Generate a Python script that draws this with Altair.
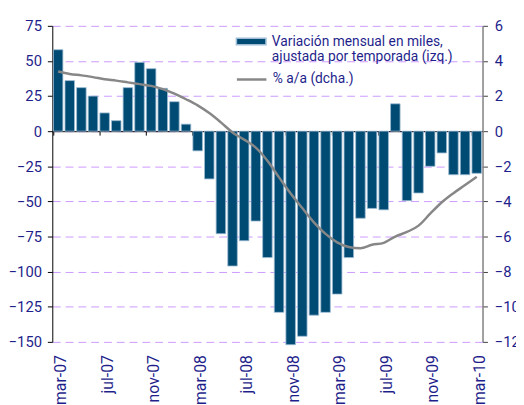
import altair as alt
import pandas as pd

months = ["mar-07", "abr-07", "may-07", "jun-07", "jul-07", "ago-07", "sep-07", "oct-07",
          "nov-07", "dic-07", "ene-08", "feb-08", "mar-08", "abr-08", "may-08", "jun-08",
          "jul-08", "ago-08", "sep-08", "oct-08", "nov-08", "dic-08", "ene-09", "feb-09",
          "mar-09", "abr-09", "may-09", "jun-09", "jul-09", "ago-09", "sep-09", "oct-09",
          "nov-09", "dic-09", "ene-10", "feb-10", "mar-10"]
empleo = [58, 36, 31, 25, 13, 7.5, 31, 49, 44.5, 30.5, 21, 5, -14, -34, -73, -96, -78,
          -64, -90, -129, -152, -146, -131, -129, -116, -90, -62, -55, -56, 19.5, -49.5,
          -44, -25, -15.5, -31, -31, -30]
tasa = [3.4, 3.26, 3.18, 3.08, 2.96, 2.88, 2.78, 2.68, 2.58, 2.4, 2.14, 1.82, 1.47, 1.03,
        0.5, -0.07, -0.48, -0.94, -1.69, -2.63, -3.55, -4.38, -5.19, -5.85, -6.33, -6.6,
        -6.67, -6.47, -6.36, -6.0, -5.74, -5.38, -4.7, -4.05, -3.53, -3.07, -2.6]
serie_barras = "Variación mensual en miles,|ajustada por temporada (izq.)"
serie_linea = "% a/a (dcha.)"
tick_months = months[::4]
left_ticks = list(range(-150, 76, 25))
right_ticks = list(range(-12, 7, 2))

df = pd.DataFrame({"mes": months, "empleo": empleo, "tasa": tasa,
                   "s_bar": serie_barras, "s_line": serie_linea})

navy = "#1F1F8C"
font = "Roboto"
x_scale = alt.Scale(domain=months, paddingInner=0.18, paddingOuter=0.09)

bars = alt.Chart(df).mark_bar(stroke="#9DBCD4", strokeWidth=0.8).encode(
    x=alt.X("mes:N", scale=x_scale, sort=months,
            axis=alt.Axis(orient="bottom", offset=-214, labels=False, domainColor="black",
                          domainWidth=1, tickColor="black", tickSize=4, values=tick_months,
                          bandPosition=0, grid=False, title=None)),
    y=alt.Y("empleo:Q", scale=alt.Scale(domain=[-150, 75], nice=False),
            axis=alt.Axis(values=left_ticks, title=None, grid=True, gridColor="#CC99FF",
                          gridDash=[8, 5], gridWidth=1, domainColor="black", tickColor="black",
                          tickSize=5, labelPadding=6, labelColor=navy, labelFontSize=15,
                          labelFont=font)),
    fill=alt.Fill("s_bar:N", scale=alt.Scale(domain=[serie_barras], range=["#004B73"]),
                  legend=alt.Legend(orient="none", legendX=186, legendY=0, title=None,
                                    symbolType="M-1,-0.22H1V0.22H-1Z", symbolSize=900,
                                    labelOffset=5, labelExpr="split(datum.label, '|')")),
)

line = alt.Chart(df).mark_line(strokeWidth=2.5, interpolate="monotone").encode(
    x=alt.X("mes:N", scale=x_scale, sort=months,
            axis=alt.Axis(orient="bottom", values=tick_months, labelAngle=-90, ticks=False,
                          domain=False, labelPadding=13, labelFontSize=16, labelColor=navy,
                          labelFont=font, labelOffset=3, title=None, grid=False)),
    y=alt.Y("tasa:Q", scale=alt.Scale(domain=[-12, 6], nice=False),
            axis=alt.Axis(orient="right", values=right_ticks, title=None, grid=False,
                          domainColor="#808080", domainWidth=1.5, tickColor="#404040",
                          tickSize=5, labelPadding=7, labelColor=navy, labelFontSize=15,
                          labelFont=font)),
    stroke=alt.Stroke("s_line:N", scale=alt.Scale(domain=[serie_linea], range=["#878787"]),
                      legend=alt.Legend(orient="none", legendX=186, legendY=38, title=None,
                                        symbolType="stroke", symbolSize=900,
                                        symbolStrokeWidth=2.5, labelOffset=5)),
)

chart = alt.layer(bars, line).resolve_scale(y="independent").resolve_axis(
    x="independent").properties(
    width=437, height=321,
    autosize=alt.AutoSizeParams(type="none"),
    padding={"left": 45, "top": 15, "right": 34, "bottom": 61},
).configure_view(stroke=None).configure_legend(
    labelFont=font, labelFontSize=14, labelColor=navy, labelLimit=400
)

chart.save("out.html", embed_options={"renderer": "svg", "actions": False})
